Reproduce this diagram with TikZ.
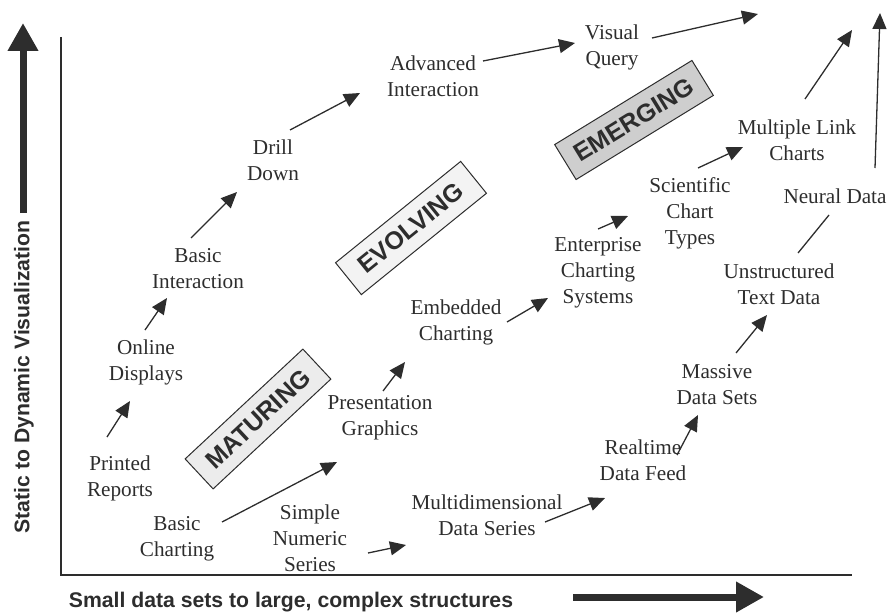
\documentclass[tikz,border=0pt]{standalone}
\usepackage{fontspec}
\setmainfont{Liberation Serif}
\setsansfont{Liberation Sans}
\usetikzlibrary{arrows.meta}
\definecolor{ink}{RGB}{45,45,45}
\definecolor{matfill}{RGB}{236,236,236}
\definecolor{evofill}{RGB}{243,243,243}
\definecolor{emefill}{RGB}{206,206,206}

\begin{document}
\begin{tikzpicture}[x=0.5pt,y=-0.5pt,
  item/.style={align=center, inner sep=0pt, text=ink, font=\fontsize{10.6}{13}\selectfont},
  arr/.style={draw=ink, line width=0.65pt, -{Triangle[length=8pt,width=7pt]}},
  link/.style={draw=ink, line width=0.65pt},
  big/.style={draw=ink, line width=3.5pt, -{Triangle[length=14pt,width=14.5pt]}},
  stage/.style={draw=ink, line width=0.5pt, minimum width=80.5pt, minimum height=20.5pt,
    inner sep=0pt, text=ink, font=\sffamily\bfseries\fontsize{12.5}{14}\selectfont},
  axislabel/.style={inner sep=0pt, text=ink, font=\sffamily\bfseries\fontsize{10.6}{13}\selectfont}]
\useasboundingbox (0,0) rectangle (887,615);

% axes
\coordinate (ytop) at (61,37);
\coordinate (origin) at (61,575);
\coordinate (xend) at (852,575);
\draw[ink, line width=1pt] (ytop) -- (origin) -- (xend);

\coordinate (vbase) at (23,213);
\coordinate (vtip) at (23,23);
\draw[big] (vbase) -- (vtip);
\coordinate (hbase) at (573,597);
\coordinate (htip) at (764,597);
\draw[big] (hbase) -- (htip);

\node[axislabel, rotate=90] (ylabel) at (24,377) {Static to Dynamic Visualization};
\node[axislabel] (xlabel) at (291,602) {Small data sets to large, complex structures};

% stages
\node[stage, fill=matfill, rotate=43] (maturing) at (258,419) {MATURING};
\node[stage, fill=evofill, rotate=39] (evolving) at (411,228) {EVOLVING};
\node[stage, fill=emefill, rotate=31.5] (emerging) at (634,120) {EMERGING};

% upper track
\node[item] (printed) at (120,478) {Printed\\Reports};
\node[item] (online) at (146,362) {Online\\Displays};
\node[item] (basicint) at (198,269) {Basic\\Interaction};
\node[item] (drill) at (273,160) {Drill\\Down};
\node[item] (advanced) at (433,76) {Advanced\\Interaction};
\node[item] (visual) at (612,47) {Visual\\Query};
\coordinate (topa) at (758,14);

\draw[arr] ([shift={(-13,-41)}]printed.center) -- ([shift={(-16,39)}]online.center);
\draw[arr] ([shift={(-1,-32)}]online.center) -- ([shift={(-31,29)}]basicint.center);
\draw[arr] ([shift={(-7,-31)}]basicint.center) -- ([shift={(-36,32)}]drill.center);
\draw[arr] ([shift={(17,-30)}]drill.center) -- ([shift={(-73,17)}]advanced.center);
\draw[arr] ([shift={(50,-15)}]advanced.center) -- ([shift={(-37,-4)}]visual.center);
\draw[arr] ([shift={(40,-9)}]visual.center) -- (topa);

% middle track
\node[item] (basicchart) at (177,539) {Basic\\Charting};
\node[item] (presentation) at (380,418) {Presentation\\Graphics};
\node[item] (embedded) at (456,322) {Embedded\\Charting};
\node[item] (enterprise) at (598,273) {Enterprise\\Charting\\Systems};
\node[item] (scientific) at (690,213) {Scientific\\Chart\\Types};
\node[item] (multilink) at (797,140) {Multiple Link\\Charts};
\coordinate (topb) at (852,30);

\draw[arr] ([shift={(45,-17)}]basicchart.center) -- ([shift={(-43,44)}]presentation.center);
\draw[arr] ([shift={(3,-27)}]presentation.center) -- ([shift={(-51,40)}]embedded.center);
\draw[arr] ([shift={(51,0)}]embedded.center) -- ([shift={(-50,25)}]enterprise.center);
\draw[arr] ([shift={(0,-44)}]enterprise.center) -- ([shift={(-62,3)}]scientific.center);
\draw[arr] ([shift={(8,-45)}]scientific.center) -- ([shift={(-54,7)}]multilink.center);
\draw[arr] ([shift={(8,-41)}]multilink.center) -- (topb);

% lower track
\node[item] (simple) at (310,538) {Simple\\Numeric\\Series};
\node[item] (multidim) at (487,515) {Multidimensional\\Data Series};
\node[item] (realtime) at (643,460) {Realtime\\Data Feed};
\node[item] (massive) at (717,385) {Massive\\Data Sets};
\node[item] (unstructured) at (779,284) {Unstructured\\Text Data};
\node[item] (neural) at (835,196) {Neural Data};
\coordinate (topc) at (880,13);

\draw[arr] ([shift={(58,15)}]simple.center) -- ([shift={(-81,30)}]multidim.center);
\draw[arr] ([shift={(58,7)}]multidim.center) -- ([shift={(-38,38)}]realtime.center);
\draw[arr] ([shift={(34,-5)}]realtime.center) -- ([shift={(-19,30)}]massive.center);
\draw[arr] ([shift={(19,-32)}]massive.center) -- ([shift={(-12,31)}]unstructured.center);
\draw[link] ([shift={(19,-31)}]unstructured.center) -- ([shift={(-6,19)}]neural.center);
\draw[arr] ([shift={(40,-28)}]neural.center) -- (topc);
\end{tikzpicture}
\end{document}
